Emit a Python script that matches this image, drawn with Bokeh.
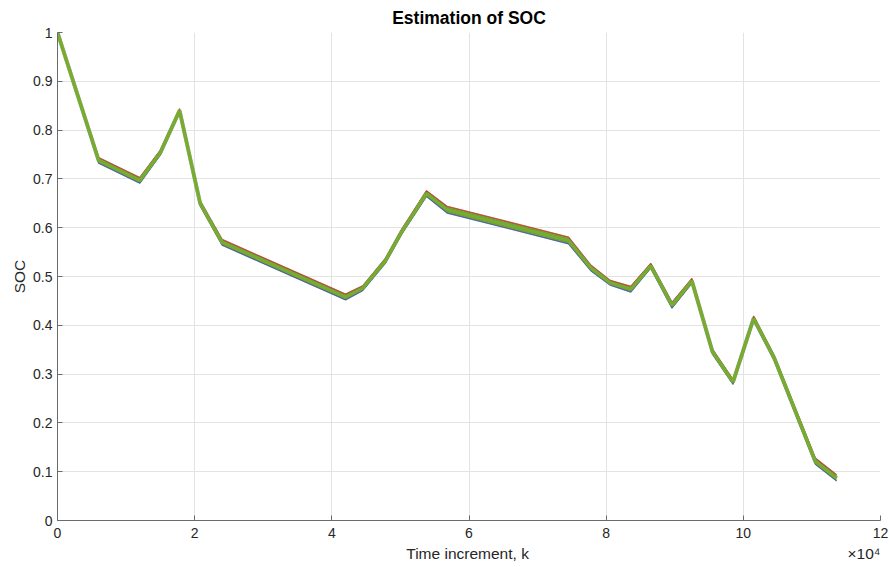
from bokeh.plotting import figure
from bokeh.models import Range1d, FixedTicker
from bokeh.embed import file_html
from bokeh.resources import INLINE

# Time increment k, in units of 1e4
k_1e4 = [0, 0.6, 1.2, 1.5, 1.78, 2.08, 2.4, 4.2, 4.45, 4.78, 5.02, 5.38, 5.68,
         7.45, 7.78, 8.06, 8.36, 8.65, 8.96, 9.25, 9.55, 9.85, 10.15, 10.45, 11.05, 11.36]
soc_mid = [1.0, 0.738, 0.697, 0.754, 0.840, 0.650, 0.570, 0.458, 0.476, 0.532, 0.592, 0.670, 0.637,
           0.574, 0.517, 0.487, 0.474, 0.522, 0.441, 0.491, 0.346, 0.284, 0.414, 0.333, 0.121, 0.087]
soc_upper = [1.0, 0.744, 0.703, 0.759, 0.844, 0.655, 0.576, 0.464, 0.481, 0.537, 0.597, 0.676, 0.644,
             0.581, 0.523, 0.492, 0.480, 0.527, 0.447, 0.496, 0.351, 0.289, 0.419, 0.338, 0.128, 0.094]
soc_lower = [1.0, 0.732, 0.691, 0.749, 0.836, 0.645, 0.564, 0.452, 0.471, 0.527, 0.587, 0.664, 0.630,
             0.567, 0.511, 0.482, 0.468, 0.517, 0.435, 0.486, 0.341, 0.279, 0.409, 0.328, 0.115, 0.081]

x_ticks = [0, 2, 4, 6, 8, 10, 12]
y_ticks = [0, 0.1, 0.2, 0.3, 0.4, 0.5, 0.6, 0.7, 0.8, 0.9, 1.0]
y_tick_labels = ["0", "0.1", "0.2", "0.3", "0.4", "0.5", "0.6", "0.7", "0.8", "0.9", "1"]
x_label = "Time increment, k"
x_multiplier = "×10⁴"

AX = "#262626"
AXLINE = "#6b6b6b"
FONT = "Liberation Sans"
NB = "\u00a0"

p = figure(width=889, height=567, output_backend="svg", toolbar_location=None,
           x_range=Range1d(0, 12), y_range=Range1d(0, 1), title="Estimation of SOC")
p.min_border_left = 57
p.min_border_right = 9
p.min_border_top = 32
p.min_border_bottom = 47
p.outline_line_color = None
p.background_fill_color = "white"
p.border_fill_color = "white"

p.title.text_font = FONT
p.title.text_font_size = "17.5px"
p.title.text_font_style = "bold"
p.title.text_color = "black"
p.title.align = "center"
p.title.standoff = 10

p.xaxis.ticker = FixedTicker(ticks=x_ticks)
p.yaxis.ticker = FixedTicker(ticks=y_ticks)
p.yaxis.major_label_overrides = {t: s for t, s in zip(y_ticks, y_tick_labels)}
p.xaxis.major_label_overrides = {t: str(t) for t in x_ticks}
for ax in (p.xaxis, p.yaxis):
    ax.axis_line_color = AXLINE
    ax.major_tick_line_color = AXLINE
    ax.major_tick_in = 5
    ax.major_tick_out = 0
    ax.minor_tick_line_color = None
    ax.major_label_text_font = FONT
    ax.major_label_text_font_size = "14px"
    ax.major_label_text_color = AX
    ax.axis_label_text_font = FONT
    ax.axis_label_text_font_size = "15.5px"
    ax.axis_label_text_font_style = "normal"
    ax.axis_label_text_color = AX
# x label centred under the axis, with the x10^4 multiplier at the right end
p.xaxis.axis_label = NB * 81 + x_label + NB * 74 + x_multiplier
p.yaxis.axis_label = "SOC"
p.xaxis.major_label_standoff = 7
p.xaxis.axis_label_standoff = 4
p.yaxis.major_label_standoff = 5
p.yaxis.axis_label_standoff = 2

p.grid.grid_line_color = "#e3e3e3"
p.grid.grid_line_width = 1

# band of estimates
p.varea(x=k_1e4, y1=soc_lower, y2=soc_upper, fill_color="#77AC30", fill_alpha=1.0)
p.line(k_1e4, soc_lower, line_color="#0072BD", line_width=1.2, line_alpha=0.7)
p.line(k_1e4, soc_lower, line_color="#7E2F8E", line_width=1, line_alpha=0.5)
p.line(k_1e4, soc_upper, line_color="#A2142F", line_width=1.2, line_alpha=0.7)
p.line(k_1e4, soc_upper, line_color="#D95319", line_width=1, line_alpha=0.5)
p.line(k_1e4, soc_mid, line_color="#6a6a6a", line_width=4, line_alpha=0.5)
p.line(k_1e4, soc_mid, line_color="#77AC30", line_width=3.5)

open("out.html", "w").write(file_html(p, INLINE))
